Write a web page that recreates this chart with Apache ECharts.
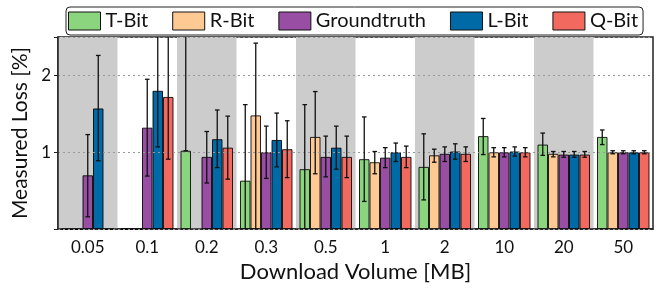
<!DOCTYPE html>
<html>
<head>
<meta charset="utf-8">
<script src="https://cdn.jsdelivr.net/npm/echarts@6/dist/echarts.min.js"></script>
<style>
  html, body { margin: 0; padding: 0; background: #fff; }
  #chart { width: 659px; height: 288px; }
</style>
</head>
<body>
<div id="chart"></div>
<script>
  // categories (download volume in MB)
  const categories = ['0.05', '0.1', '0.2', '0.3', '0.5', '1', '2', '10', '20', '50'];
  const seriesNames = ['T-Bit', 'R-Bit', 'Groundtruth', 'L-Bit', 'Q-Bit'];
  const colors = ['#8ad57d', '#ffc994', '#984ea3', '#006aa7', '#f2695f'];

  // mean measured loss [%]
  const tBit = [0, 0, 1.02, 0.63, 0.78, 0.91, 0.81, 1.21, 1.10, 1.20];
  const rBit = [0, 0, null, 1.48, 1.20, 0.87, 0.96, 1.00, 0.98, 1.00];
  const groundtruth = [0.70, 1.32, 0.94, 1.00, 0.94, 0.93, 0.98, 1.00, 0.97, 1.00];
  const lBit = [1.57, 1.80, 1.17, 1.16, 1.06, 1.00, 1.01, 1.01, 0.97, 1.00];
  const qBit = [0, 1.72, 1.06, 1.04, 0.94, 0.94, 0.98, 1.00, 0.97, 1.00];

  // error bar lower / upper ends
  const tLow = [null, null, 1.02, 0.0, 0.0, 0.36, 0.38, 0.97, 0.96, 1.10];
  const tHigh = [null, null, 3.0, 1.62, 1.62, 1.46, 1.24, 1.44, 1.25, 1.29];
  const rLow = [null, null, null, 0.0, 0.72, 0.72, 0.87, 0.94, 0.94, 0.98];
  const rHigh = [null, null, null, 2.42, 1.79, 1.01, 1.04, 1.06, 1.01, 1.02];
  const gLow = [0.16, 0.69, 0.60, 0.66, 0.68, 0.80, 0.88, 0.94, 0.935, 0.98];
  const gHigh = [1.23, 1.95, 1.27, 1.34, 1.21, 1.06, 1.07, 1.06, 1.01, 1.02];
  const lLow = [0.89, 1.07, 0.80, 0.81, 0.78, 0.88, 0.91, 0.95, 0.935, 0.98];
  const lHigh = [2.26, 3.0, 1.55, 1.51, 1.34, 1.12, 1.11, 1.07, 1.01, 1.02];
  const qLow = [null, 0.91, 0.65, 0.67, 0.67, 0.80, 0.88, 0.94, 0.935, 0.98];
  const qHigh = [null, 3.0, 1.47, 1.41, 1.21, 1.08, 1.07, 1.06, 1.01, 1.02];

  const yTicks = [1, 2];

  const means = [tBit, rBit, groundtruth, lBit, qBit];
  const lows = [tLow, rLow, gLow, lLow, qLow];
  const highs = [tHigh, rHigh, gHigh, lHigh, qHigh];

  const BAR_W = 10.5;
  const FONT = 'Lato';

  let myChart = echarts.init(document.getElementById('chart'));

  let series = [];
  seriesNames.forEach(function (name, i) {
    series.push({
      name: name,
      type: 'bar',
      barWidth: BAR_W,
      barGap: '0%',
      itemStyle: { color: colors[i], borderColor: 'rgba(0,0,0,0.85)', borderWidth: 1 },
      data: means[i]
    });
  });
  // error bars, one custom series per bar series
  seriesNames.forEach(function (name, i) {
    let errData = categories.map(function (c, k) {
      return [k, lows[i][k], highs[i][k]];
    }).filter(function (d) { return d[1] != null && d[2] != null; });
    series.push({
      type: 'custom',
      name: name + ' err',
      clip: true,
      z: 5,
      silent: true,
      renderItem: function (params, api) {
        let k = api.value(0);
        let lo = api.coord([k, api.value(1)]);
        let hi = api.coord([k, api.value(2)]);
        let x = lo[0] + (i - 2) * BAR_W;
        let cap = 2.3;
        let style = { stroke: '#111', lineWidth: 1.3 };
        return {
          type: 'group',
          children: [
            { type: 'line', shape: { x1: x, y1: lo[1], x2: x, y2: hi[1] }, style: style },
            { type: 'line', shape: { x1: x - cap, y1: lo[1], x2: x + cap, y2: lo[1] }, style: style },
            { type: 'line', shape: { x1: x - cap, y1: hi[1], x2: x + cap, y2: hi[1] }, style: style }
          ]
        };
      },
      encode: { x: 0, y: [1, 2] },
      data: errData
    });
  });

  let option = {
    animation: false,
    textStyle: { fontFamily: FONT },
    legend: {
      data: seriesNames,
      icon: 'rect',
      left: 66,
      top: 7,
      width: 590,
      padding: [4, 5, 4, 2],
      itemWidth: 32,
      itemHeight: 18,
      itemGap: 24,
      borderColor: '#222',
      borderWidth: 1,
      borderRadius: 4,
      textStyle: { fontFamily: FONT, fontSize: 20, color: '#111' },
      itemStyle: { borderColor: '#111', borderWidth: 1 }
    },
    grid: {
      left: 58,
      right: 6,
      top: 37,
      bottom: 56,
      show: true,
      borderColor: '#222',
      borderWidth: 1.5
    },
    xAxis: {
      type: 'category',
      data: categories,
      name: 'Download Volume [MB]',
      nameLocation: 'middle',
      nameGap: 30,
      nameTextStyle: { fontFamily: FONT, fontSize: 22, color: '#111' },
      axisLine: { lineStyle: { color: '#222', width: 1.5 } },
      axisTick: { alignWithLabel: true, length: 4, lineStyle: { color: '#222' } },
      axisLabel: { fontFamily: FONT, fontSize: 17, color: '#111', margin: 10 },
      splitArea: { show: true, areaStyle: { color: ['#cccccc', 'rgba(255,255,255,0)'] } }
    },
    yAxis: {
      type: 'value',
      min: 0,
      max: 2.5,
      interval: 1,
      name: 'Measured Loss [%]',
      nameLocation: 'middle',
      nameGap: 18,
      nameTextStyle: { fontFamily: FONT, fontSize: 21, color: '#111' },
      axisLine: { show: true, lineStyle: { color: '#222', width: 1.5 } },
      axisTick: { show: true, length: 4, lineStyle: { color: '#222' } },
      axisLabel: {
        fontFamily: FONT, fontSize: 17, color: '#111', margin: 7,
        formatter: function (v) { return yTicks.indexOf(v) >= 0 ? String(v) : ''; }
      },
      splitLine: { show: true, lineStyle: { color: '#999', type: [2, 3], width: 1 } },
      z: 3
    },
    series: series
  };
  myChart.setOption(option);
</script>
</body>
</html>
